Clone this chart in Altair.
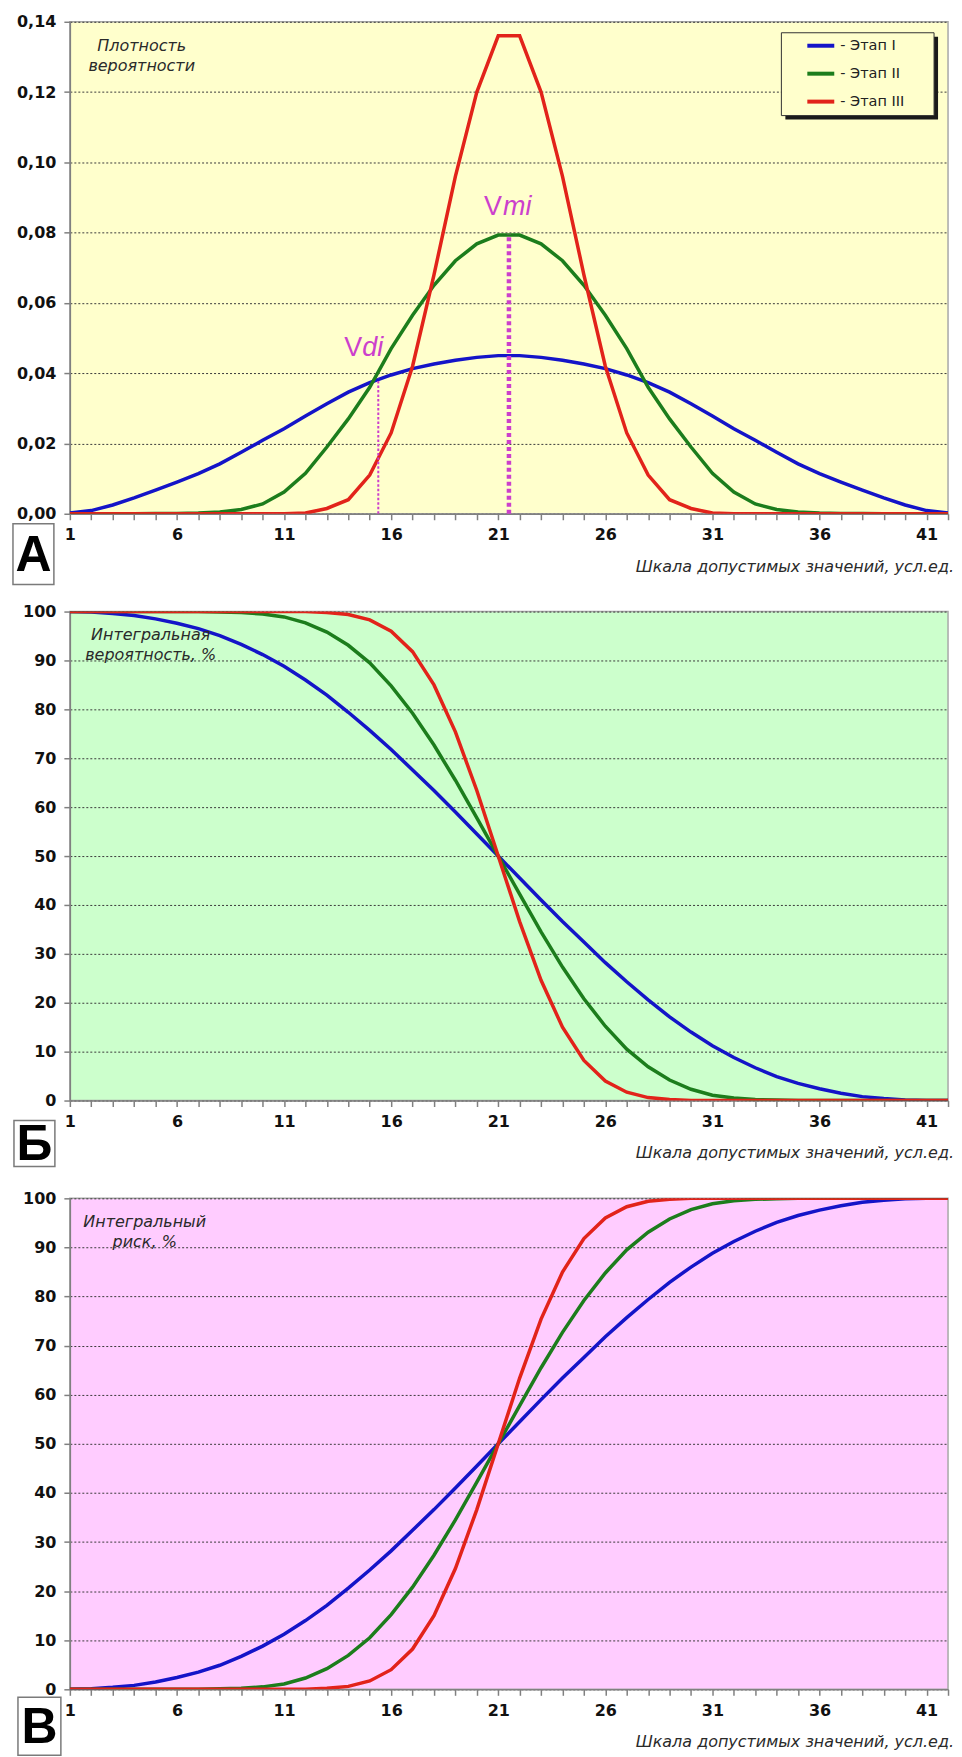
import altair as alt
import pandas as pd

# ---------------- data ----------------
x_values = list(range(1, 43))
series = ["Этап I", "Этап II", "Этап III"]
legend_labels = ["- Этап  I", "- Этап II", "- Этап III"]
colors = ["#1414C8", "#1C7D1C", "#E2231A"]

# Panel A: probability density
dens_I = [0.0002, 0.0009, 0.0025, 0.0045, 0.0067, 0.0090, 0.0114, 0.0142, 0.0175, 0.0209,
          0.0242, 0.0278, 0.0313, 0.0346, 0.0373, 0.0395, 0.0413, 0.0426, 0.0437, 0.0445,
          0.0450, 0.0450, 0.0445, 0.0437, 0.0426, 0.0413, 0.0395, 0.0373, 0.0346, 0.0313,
          0.0278, 0.0242, 0.0209, 0.0175, 0.0142, 0.0114, 0.0090, 0.0067, 0.0045, 0.0025,
          0.0009, 0.0002]
dens_II = [0.0, 0.0, 0.0, 0.0, 0.0001, 0.0001, 0.0002, 0.0005, 0.0012, 0.0028,
           0.0062, 0.0115, 0.0190, 0.0270, 0.0360, 0.0470, 0.0565, 0.0650, 0.0720, 0.0768,
           0.0793, 0.0793, 0.0768, 0.0720, 0.0650, 0.0565, 0.0470, 0.0360, 0.0270, 0.0190,
           0.0115, 0.0062, 0.0028, 0.0012, 0.0005, 0.0002, 0.0001, 0.0001, 0.0, 0.0,
           0.0, 0.0]
dens_III = [0.0, 0.0, 0.0, 0.0, 0.0, 0.0, 0.0, 0.0, 0.0, 0.0,
            0.0, 0.0002, 0.0015, 0.0040, 0.0110, 0.0230, 0.0420, 0.0680, 0.0960, 0.1200,
            0.1360, 0.1360, 0.1200, 0.0960, 0.0680, 0.0420, 0.0230, 0.0110, 0.0040, 0.0015,
            0.0002, 0.0, 0.0, 0.0, 0.0, 0.0, 0.0, 0.0, 0.0, 0.0,
            0.0, 0.0]

# Panel B: integral probability, %
prob_I = [100.0, 99.9, 99.6, 99.2, 98.5, 97.6, 96.5, 95.1, 93.3, 91.2,
          88.8, 86.0, 82.9, 79.4, 75.7, 71.8, 67.6, 63.4, 59.0, 54.5,
          50.0, 45.5, 41.0, 36.6, 32.4, 28.2, 24.3, 20.6, 17.1, 14.0,
          11.2, 8.8, 6.7, 4.9, 3.5, 2.4, 1.5, 0.8, 0.4, 0.1,
          0.0, 0.0]
prob_II = [100.0, 100.0, 100.0, 100.0, 100.0, 100.0, 100.0, 99.9, 99.8, 99.5,
           98.9, 97.7, 95.8, 93.1, 89.5, 84.8, 79.2, 72.7, 65.5, 57.8,
           50.0, 42.2, 34.5, 27.3, 20.8, 15.2, 10.5, 6.9, 4.2, 2.3,
           1.1, 0.5, 0.2, 0.1, 0.0, 0.0, 0.0, 0.0, 0.0, 0.0,
           0.0, 0.0]
prob_III = [100.0, 100.0, 100.0, 100.0, 100.0, 100.0, 100.0, 100.0, 100.0, 100.0,
            100.0, 100.0, 99.8, 99.4, 98.3, 96.0, 91.8, 85.0, 75.4, 63.4,
            50.0, 36.6, 24.6, 15.0, 8.2, 4.0, 1.7, 0.6, 0.2, 0.0,
            0.0, 0.0, 0.0, 0.0, 0.0, 0.0, 0.0, 0.0, 0.0, 0.0,
            0.0, 0.0]

# Panel C: integral risk, %
risk_I = [0.0, 0.1, 0.4, 0.8, 1.5, 2.4, 3.5, 4.9, 6.7, 8.8,
          11.2, 14.0, 17.1, 20.6, 24.3, 28.2, 32.4, 36.6, 41.0, 45.5,
          50.0, 54.5, 59.0, 63.4, 67.6, 71.8, 75.7, 79.4, 82.9, 86.0,
          88.8, 91.2, 93.3, 95.1, 96.5, 97.6, 98.5, 99.2, 99.6, 99.9,
          100.0, 100.0]
risk_II = [0.0, 0.0, 0.0, 0.0, 0.0, 0.0, 0.0, 0.1, 0.2, 0.5,
           1.1, 2.3, 4.2, 6.9, 10.5, 15.2, 20.8, 27.3, 34.5, 42.2,
           50.0, 57.8, 65.5, 72.7, 79.2, 84.8, 89.5, 93.1, 95.8, 97.7,
           98.9, 99.5, 99.8, 99.9, 100.0, 100.0, 100.0, 100.0, 100.0, 100.0,
           100.0, 100.0]
risk_III = [0.0, 0.0, 0.0, 0.0, 0.0, 0.0, 0.0, 0.0, 0.0, 0.0,
            0.0, 0.0, 0.2, 0.6, 1.7, 4.0, 8.2, 15.0, 24.6, 36.6,
            50.0, 63.4, 75.4, 85.0, 91.8, 96.0, 98.3, 99.4, 99.8, 100.0,
            100.0, 100.0, 100.0, 100.0, 100.0, 100.0, 100.0, 100.0, 100.0, 100.0,
            100.0, 100.0]

# markers on panel A
marker_names = ["Vdi", "Vmi"]
marker_x = [15.4, 21.5]
marker_bottom = [0.0, 0.0]
marker_top = [0.0384, 0.0796]

y_ticks_A = [0.0, 0.02, 0.04, 0.06, 0.08, 0.10, 0.12, 0.14]
y_ticks_pct = [0, 10, 20, 30, 40, 50, 60, 70, 80, 90, 100]

x_title = "Шкала допустимых значений, усл.ед."

# ---------------- layout constants ----------------
W = 880
H_A, H_B, H_C = 493, 490, 492
MAGENTA = "#CC3FCC"
TXT_FONT = "DejaVu Sans"


def long_df(lists):
    rows = []
    for name, vals in zip(series, lists):
        for x, v in zip(x_values, vals):
            rows.append({"x": x, "v": v, "series": name})
    return pd.DataFrame(rows)


one = pd.DataFrame({"a": [0]})


def anchor(x0, y0):
    # tiny white rectangle used only to fix the page extent
    return alt.Chart(one).mark_rect(fill="white", strokeWidth=0).encode(
        x=alt.value(x0), x2=alt.value(x0 + 1), y=alt.value(y0), y2=alt.value(y0 + 1))


def x_enc():
    return alt.X(
        "x:Q",
        scale=alt.Scale(domain=[1, 42], nice=False, zero=False),
        axis=alt.Axis(
            values=x_values,
            labelExpr="(datum.value - 1) % 5 == 0 ? datum.label : ''",
            title=None, grid=False, labelFlush=False, labelOverlap=False,
            tickSize=6, labelPadding=7,
        ),
    )


def panel(lists, y_domain, y_ticks, label_expr, H, ylabel_lines, ylabel_x,
          letter, box):
    df = long_df(lists)
    lines = alt.Chart(df).mark_line(strokeWidth=3.5, clip=True).encode(
        x=x_enc(),
        y=alt.Y(
            "v:Q",
            scale=alt.Scale(domain=y_domain, nice=False, zero=False),
            axis=alt.Axis(values=y_ticks, labelExpr=label_expr, title=None,
                          grid=True, gridDash=[2, 2], gridColor="#3A3A3A",
                          gridWidth=1, tickSize=6, labelPadding=8),
        ),
        color=alt.Color("series:N", scale=alt.Scale(domain=series, range=colors),
                        legend=None),
        order=alt.Order("x:Q"),
    )
    ylabel = alt.Chart(one).mark_text(
        text=ylabel_lines, font=TXT_FONT, fontStyle="italic", fontSize=16,
        color="#2A2A2A", align="center", baseline="middle", lineHeight=20,
    ).encode(x=alt.value(ylabel_x), y=alt.value(24))
    xtitle = alt.Chart(one).mark_text(
        text=x_title, font=TXT_FONT, fontStyle="italic", fontSize=16,
        color="#2A2A2A", align="right", baseline="middle",
    ).encode(x=alt.value(W + 6), y=alt.value(H + 53))
    bx0, bx1, by0, by1 = box
    letter_box = alt.Chart(one).mark_rect(
        fill="white", stroke="#7A7A7A", strokeWidth=1.5
    ).encode(x=alt.value(bx0), x2=alt.value(bx1), y=alt.value(H + by0),
             y2=alt.value(H + by1))
    letter_txt = alt.Chart(one).mark_text(
        text=letter, font="Liberation Sans", fontWeight="bold", fontSize=50,
        color="black", align="center", baseline="middle",
    ).encode(x=alt.value((bx0 + bx1) / 2), y=alt.value(H + (by0 + by1) / 2 + 2))
    return [lines, ylabel, xtitle, letter_box, letter_txt]


# ---------------- panel A ----------------
layers_A = panel(
    [dens_I, dens_II, dens_III], [0, 0.14], y_ticks_A,
    "replace(format(datum.value, '.2f'), '.', ',')",
    H_A, ["Плотность", "вероятности"], 72, "А", (-57, -16, 10, 71),
)

mk = pd.DataFrame({"name": marker_names, "x": marker_x, "bottom": marker_bottom,
                   "top": marker_top})
vdi_rule = alt.Chart(mk).transform_filter("datum.name == 'Vdi'").mark_rule(
    color=MAGENTA, strokeWidth=2, strokeDash=[2.5, 2]
).encode(x=x_enc(), y="bottom:Q", y2="top:Q")
vmi_rule = alt.Chart(mk).transform_filter("datum.name == 'Vmi'").mark_rule(
    color=MAGENTA, strokeWidth=4.5, strokeDash=[4, 3]
).encode(x=x_enc(), y="bottom:Q", y2="top:Q")


def marker_label(name, dx_v, dx_sub, dy):
    sub = name[1:]
    base = alt.Chart(mk).transform_filter(f"datum.name == '{name}'")
    v = base.mark_text(text="V", font="Liberation Sans", fontSize=27,
                       color=MAGENTA, align="center", baseline="middle",
                       dx=dx_v, dy=dy).encode(x=x_enc(), y="top:Q")
    s = base.mark_text(text=sub, font="Liberation Sans", fontSize=27,
                       fontStyle="italic", color=MAGENTA, align="left",
                       baseline="middle", dx=dx_sub, dy=dy).encode(x=x_enc(), y="top:Q")
    return [v, s]


# manual legend (box with shadow)
LX0, LX1, LY0, LY1 = 713, 866, 11, 94
legend_layers = [
    alt.Chart(one).mark_rect(fill="#1A1A1A").encode(
        x=alt.value(LX0 + 4), x2=alt.value(LX1 + 4), y=alt.value(LY0 + 4), y2=alt.value(LY1 + 4)),
    alt.Chart(one).mark_rect(fill="#FFFFCC", stroke="#333333", strokeWidth=1).encode(
        x=alt.value(LX0), x2=alt.value(LX1), y=alt.value(LY0), y2=alt.value(LY1)),
]
row_y = [24, 52, 80]
for lab, col, ry in zip(legend_labels, colors, row_y):
    legend_layers.append(
        alt.Chart(one).mark_rule(color=col, strokeWidth=4).encode(
            x=alt.value(739), x2=alt.value(766), y=alt.value(ry)))
    legend_layers.append(
        alt.Chart(one).mark_text(text=lab, font=TXT_FONT, fontSize=14.5, color="#222222",
                                 align="left", baseline="middle").encode(
            x=alt.value(772), y=alt.value(ry)))

chart_A = alt.layer(
    anchor(-69, -19), *layers_A[:1], vdi_rule, vmi_rule, *layers_A[1:],
    *marker_label("Vdi", -25, -16, -31), *marker_label("Vmi", -16, -6, -27),
    *legend_layers,
).properties(width=W, height=H_A,
             view=alt.ViewBackground(fill="#FFFFCC", stroke="#A8A8A8", strokeWidth=1.5))

# ---------------- panel B ----------------
layers_B = panel(
    [prob_I, prob_II, prob_III], [0, 100], y_ticks_pct, "format(datum.value, 'd')",
    H_B, ["Интегральная", "вероятность, %"], 81, "Б", (-56, -15, 20, 66),
)
chart_B = alt.layer(*layers_B).properties(
    width=W, height=H_B,
    view=alt.ViewBackground(fill="#CCFFCC", stroke="#A8A8A8", strokeWidth=1.5))

# ---------------- panel C ----------------
layers_C = panel(
    [risk_I, risk_II, risk_III], [0, 100], y_ticks_pct, "format(datum.value, 'd')",
    H_C, ["Интегральный", "риск, %"], 75, "В", (-52, -9, 8, 66),
)
chart_C = alt.layer(anchor(W + 12, H_C + 66), *layers_C).properties(
    width=W, height=H_C,
    view=alt.ViewBackground(fill="#FFCCFF", stroke="#A8A8A8", strokeWidth=1.5))

chart = alt.vconcat(chart_A, chart_B, chart_C, spacing=98, bounds="flush").properties(
    padding=0,
    background="white",
).configure_axis(
    labelFont="DejaVu Sans", labelFontWeight="bold", labelFontSize=16,
    labelColor="#111111", domainColor="#808080", domainWidth=1.5,
    tickColor="#808080", tickWidth=1.5, labelOverlap=False,
)

chart.save("out.html", embed_options={"renderer": "svg", "actions": False})
